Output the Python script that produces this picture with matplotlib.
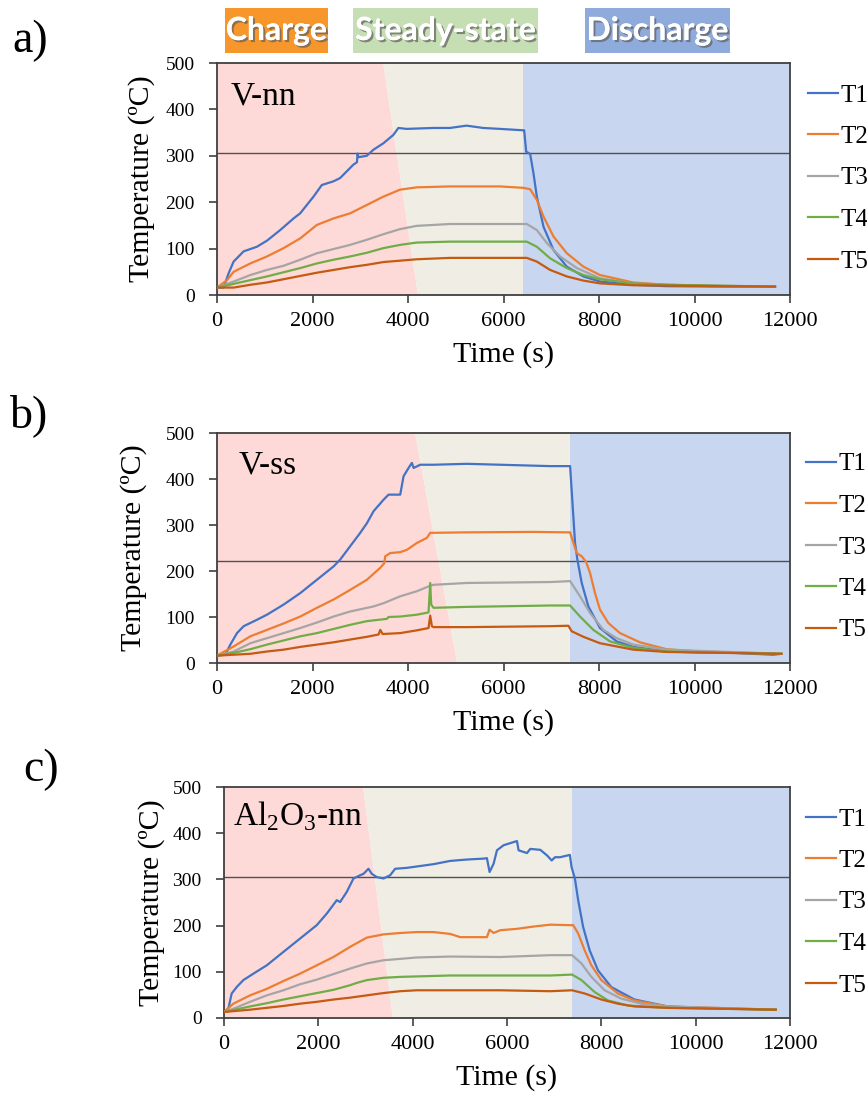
import matplotlib
matplotlib.use("Agg")
import matplotlib.pyplot as plt
import matplotlib.patheffects as pe
from matplotlib.patches import Rectangle, Polygon

plt.rcParams['font.family'] = ['Liberation Serif', 'DejaVu Serif']
plt.rcParams['mathtext.fontset'] = 'custom'
plt.rcParams['mathtext.rm'] = 'Liberation Serif'

# ---- data ---------------------------------------------------------------
SERIES = ["T1", "T2", "T3", "T4", "T5"]
PHASES = ["Charge", "Steady-state", "Discharge"]
PANEL_NAMES = ["V-nn", "V-ss", r"Al$_{\mathregular{2}}$O$_{\mathregular{3}}$-nn"]
PANEL_TAGS = ["a)", "b)", "c)"]
XTICKS = [0, 2000, 4000, 6000, 8000, 10000, 12000]
YTICKS = [0, 100, 200, 300, 400, 500]

# phase boundaries (s): charge end at top / bottom of plot, steady-state end
A_CHARGE_END = (3480, 4210)
A_STEADY_END = 6410
B_CHARGE_END = (4150, 5030)
B_STEADY_END = 7390
C_CHARGE_END = (2950, 3580)
C_STEADY_END = 7380
# horizontal reference line (ºC)
A_HLINE = 306
B_HLINE = 222
C_HLINE = 305

# panel a) V-nn
A_T1_t = [0, 140, 244, 348, 557, 836, 1045, 1324, 1603, 1742, 2021, 2195, 2439, 2578,
          2857, 2930, 2945, 2960, 3136, 3275, 3484, 3693, 3798, 3972, 4530, 4878, 5226,
          5575, 5923, 6411, 6433, 6475, 6558, 6628, 6698, 6838, 7047, 7326, 7675, 8021,
          8719, 9417, 10813, 11686]
A_T1_y = [16, 16, 47, 72, 94, 104, 117, 140, 165, 176, 212, 237, 245, 252,
          281, 286, 305, 297, 300, 313, 327, 345, 360, 358, 360, 360, 365,
          360, 358, 355, 355, 309, 304, 262, 212, 147, 97, 61, 40, 29,
          22, 19, 18, 18]
A_T2_t = [0, 209, 348, 697, 1045, 1394, 1742, 2091, 2439, 2787, 3136, 3484, 3833, 4181,
          4878, 5923, 6411, 6558, 6698, 6838, 7047, 7326, 7675, 8021, 8719, 9417, 10813, 11686]
A_T2_y = [16, 32, 50, 68, 83, 101, 122, 151, 165, 176, 194, 212, 227, 232,
          234, 234, 231, 228, 205, 169, 126, 90, 61, 43, 27, 22, 18, 18]
A_T3_t = [0, 348, 697, 1045, 1394, 1742, 2091, 2439, 2787, 3136, 3484, 3833, 4181, 4878,
          6411, 6488, 6698, 6907, 7186, 7535, 8021, 8719, 9417, 11686]
A_T3_y = [16, 29, 43, 54, 63, 76, 90, 99, 108, 119, 131, 142, 149, 153,
          153, 153, 140, 112, 83, 58, 36, 25, 22, 18]
A_T4_t = [0, 348, 1045, 1742, 2091, 2439, 2787, 3136, 3484, 3833, 4181, 4878, 6411, 6488,
          6698, 6977, 7326, 7675, 8021, 8719, 9417, 11686]
A_T4_y = [16, 24, 40, 58, 68, 76, 83, 91, 101, 108, 113, 115, 115, 115,
          104, 79, 58, 43, 34, 25, 22, 18]
A_T5_t = [0, 348, 697, 1045, 1394, 1742, 2091, 2439, 2787, 3136, 3484, 3833, 4181, 4878,
          6411, 6488, 6698, 6977, 7326, 7675, 8021, 8719, 11686]
A_T5_y = [16, 16, 22, 27, 34, 41, 48, 54, 60, 65, 71, 74, 77, 80,
          80, 80, 72, 54, 40, 31, 25, 21, 18]

# panel b) V-ss
B_T1_t = [0, 174, 279, 419, 558, 837, 1046, 1395, 1744, 2093, 2442, 2581, 2790, 3000,
          3140, 3279, 3488, 3593, 3837, 3907, 4012, 4082, 4117, 4256, 4535, 5232, 5930,
          6977, 7325, 7395, 7449, 7498, 7547, 7638, 7777, 8021, 8369, 8718, 9415, 10111,
          10808, 11645, 11819]
B_T1_y = [16, 18, 40, 65, 80, 94, 105, 127, 152, 181, 210, 225, 254, 283,
          304, 330, 355, 366, 366, 406, 424, 435, 424, 431, 431, 433, 431,
          428, 428, 428, 341, 261, 225, 174, 123, 76, 47, 35, 25, 23,
          22, 18, 20]
B_T2_t = [0, 349, 698, 1046, 1395, 1744, 2093, 2442, 2790, 3140, 3419, 3503, 3523, 3628,
          3837, 3977, 4186, 4395, 4465, 4535, 5232, 6628, 7325, 7394, 7533, 7638, 7728,
          7812, 7916, 8021, 8195, 8439, 8857, 9415, 10111, 11819]
B_T2_y = [16, 36, 58, 72, 86, 101, 120, 138, 159, 181, 207, 217, 232, 239,
          241, 246, 261, 272, 283, 283, 284, 285, 284, 284, 239, 232, 220,
          196, 152, 116, 87, 65, 45, 30, 25, 20]
B_T3_t = [0, 349, 698, 1046, 1395, 1744, 2093, 2442, 2790, 3279, 3488, 3837, 4186, 4465,
          4535, 5232, 6977, 7395, 7603, 7812, 8091, 8369, 8718, 9415, 11819]
B_T3_y = [16, 25, 43, 54, 65, 76, 88, 101, 112, 123, 130, 145, 156, 168,
          170, 174, 176, 178, 145, 109, 72, 54, 40, 29, 20]
B_T4_t = [0, 349, 698, 1046, 1395, 1744, 2093, 2442, 2790, 3140, 3558, 3593, 3837, 4186,
          4430, 4465, 4486, 4535, 5232, 6977, 7395, 7603, 7882, 8230, 8718, 9415, 11819]
B_T4_y = [16, 22, 30, 40, 49, 58, 65, 74, 83, 91, 96, 100, 101, 105,
          110, 174, 127, 120, 122, 125, 125, 101, 72, 47, 33, 25, 20]
B_T5_t = [0, 698, 1046, 1395, 1744, 2093, 2442, 2790, 3140, 3384, 3419, 3468, 3837, 4186,
          4430, 4465, 4500, 4535, 5232, 6977, 7359, 7428, 7672, 8021, 8718, 9415, 11819]
B_T5_y = [16, 20, 25, 29, 35, 40, 45, 51, 57, 62, 72, 63, 65, 71,
          76, 103, 80, 78, 78, 80, 81, 69, 57, 43, 29, 24, 20]

# panel c) Al2O3-nn
C_T1_t = [0, 92, 163, 269, 410, 623, 906, 1259, 1613, 1967, 2179, 2391, 2462, 2603,
          2745, 2887, 2957, 3063, 3134, 3240, 3382, 3523, 3629, 3876, 4089, 4443, 4796,
          5150, 5504, 5574, 5631, 5716, 5787, 5928, 6211, 6246, 6423, 6494, 6706, 6848,
          6947, 7018, 7123, 7333, 7368, 7439, 7509, 7614, 7754, 7930, 8211, 8702, 9404,
          10105, 10807, 11698]
C_T1_y = [13, 20, 53, 67, 82, 96, 114, 143, 172, 201, 226, 255, 251, 273,
          302, 309, 312, 323, 312, 305, 302, 309, 323, 325, 328, 333, 340,
          343, 345, 346, 316, 334, 363, 374, 383, 363, 357, 366, 364, 352,
          341, 348, 348, 353, 327, 302, 255, 197, 146, 103, 67, 40, 25,
          22, 20, 18]
C_T2_t = [0, 198, 552, 906, 1259, 1613, 1967, 2320, 2674, 3027, 3382, 3735, 4089, 4443,
          4796, 5008, 5574, 5631, 5716, 5857, 6211, 6565, 6918, 7298, 7404, 7509, 7649,
          7789, 8000, 8351, 8702, 9404, 11698]
C_T2_y = [13, 31, 49, 63, 80, 96, 114, 132, 154, 174, 181, 184, 186, 186,
          182, 175, 175, 191, 184, 190, 193, 198, 202, 201, 201, 183, 146,
          114, 82, 53, 38, 25, 18]
C_T3_t = [0, 198, 552, 906, 1259, 1613, 1967, 2320, 2674, 3027, 3382, 3735, 4089, 4796,
          5857, 6918, 7380, 7579, 7789, 8070, 8421, 8842, 9404, 11698]
C_T3_y = [13, 20, 35, 49, 60, 73, 83, 95, 107, 118, 125, 128, 131, 133,
          132, 136, 136, 118, 89, 60, 42, 31, 25, 18]
C_T4_t = [0, 552, 906, 1259, 1613, 1967, 2320, 2674, 2816, 3027, 3382, 3735, 4089, 4796,
          5857, 6918, 7380, 7579, 7860, 8140, 8561, 9404, 11698]
C_T4_y = [13, 25, 32, 40, 47, 54, 61, 71, 76, 82, 87, 89, 90, 92,
          92, 92, 94, 82, 56, 38, 27, 22, 18]
C_T5_t = [0, 552, 906, 1259, 1613, 1967, 2320, 2674, 3027, 3382, 3735, 4089, 4796, 5857,
          6918, 7380, 7649, 8000, 8351, 8702, 9404, 11698]
C_T5_y = [13, 18, 22, 26, 31, 35, 40, 44, 49, 54, 58, 60, 60, 60,
          58, 60, 53, 40, 31, 25, 22, 18]

A_DATA = [(A_T1_t, A_T1_y), (A_T2_t, A_T2_y), (A_T3_t, A_T3_y), (A_T4_t, A_T4_y), (A_T5_t, A_T5_y)]
B_DATA = [(B_T1_t, B_T1_y), (B_T2_t, B_T2_y), (B_T3_t, B_T3_y), (B_T4_t, B_T4_y), (B_T5_t, B_T5_y)]
C_DATA = [(C_T1_t, C_T1_y), (C_T2_t, C_T2_y), (C_T3_t, C_T3_y), (C_T4_t, C_T4_y), (C_T5_t, C_T5_y)]

# ---- styling ---------------------------------------------------------------
line_colors = ['#4472C4', '#ED7D31', '#A5A5A5', '#70AD47', '#C55A11']
shade_colors = ['#FDDAD8', '#F0EEE4', '#C9D6EF']
box_colors = ['#F7962A', '#C5DEB3', '#8FABDC']
axis_color = '#404040'

W, H = 867, 1102
fig = plt.figure(figsize=(W / 100, H / 100), dpi=100)


def px(x0, y0, x1, y1):
    # pixel box (left, top, right, bottom) -> figure rect
    return [x0 / W, 1 - y1 / H, (x1 - x0) / W, (y1 - y0) / H]


panels = [
    dict(rect=px(217, 63, 790, 295), data=A_DATA, ce=A_CHARGE_END, se=A_STEADY_END,
         hl=A_HLINE, name_xy=(0.023, 0.823), ylab_x=-0.108, leg=(808, 84), tag=(12, 52)),
    dict(rect=px(217, 433, 790, 663), data=B_DATA, ce=B_CHARGE_END, se=B_STEADY_END,
         hl=B_HLINE, name_xy=(0.037, 0.826), ylab_x=-0.122, leg=(806, 453), tag=(10, 427)),
    dict(rect=px(224, 787, 790, 1018), data=C_DATA, ce=C_CHARGE_END, se=C_STEADY_END,
         hl=C_HLINE, name_xy=(0.016, 0.835), ylab_x=-0.104, leg=(806, 808), tag=(23, 781)),
]

for i, p in enumerate(panels):
    ax = fig.add_axes(p['rect'])
    ax.set_xlim(0, 12000)
    ax.set_ylim(0, 500)
    top, bot = p['ce']
    ax.add_patch(Polygon([(0, 0), (0, 500), (top, 500), (bot, 0)], closed=True,
                         facecolor=shade_colors[0], edgecolor='none', zorder=0))
    ax.add_patch(Polygon([(bot, 0), (top, 500), (p['se'], 500), (p['se'], 0)], closed=True,
                         facecolor=shade_colors[1], edgecolor='none', zorder=0))
    ax.axvspan(p['se'], 12000, facecolor=shade_colors[2], edgecolor='none', zorder=0)
    ax.axhline(p['hl'], color='#505050', lw=1.0, zorder=1)

    for (t, y), c, lab in zip(p['data'], line_colors, SERIES):
        ax.plot(t, y, color=c, lw=1.6, label=lab, zorder=3)

    ax.set_xticks(XTICKS)
    ax.set_yticks(YTICKS)
    ax.tick_params(axis='x', labelsize=16, length=6, width=1.2, color=axis_color, pad=6)
    ax.tick_params(axis='y', labelsize=14, length=6, width=1.2, color=axis_color, pad=10)
    for s in ax.spines.values():
        s.set_color(axis_color)
        s.set_linewidth(1.3)

    ax.set_ylabel('Temperature (ºC)', fontsize=21.5)
    ax.yaxis.set_label_coords(p['ylab_x'], 0.5)
    ax.set_xlabel('Time (s)', fontsize=21.5)
    ax.xaxis.set_label_coords(0.5, -0.2)

    ax.text(p['name_xy'][0], p['name_xy'][1], PANEL_NAMES[i], transform=ax.transAxes,
            fontsize=24, va='baseline', ha='left', zorder=4)

    lx, ly = p['leg']
    ax.legend(loc='upper left', bbox_to_anchor=(lx / W, 1 - ly / H),
              bbox_transform=fig.transFigure, frameon=False, fontsize=18,
              borderpad=0, borderaxespad=0, handlelength=1.2, handletextpad=0.1,
              labelspacing=0.76)

    tx, ty = p['tag']
    fig.text(tx / W, 1 - ty / H, PANEL_TAGS[i], fontsize=33, va='baseline', ha='left')

# ---- phase header boxes ------------------------------------------------------
boxes = [(225, 8, 328, 53), (353, 8, 538, 53), (585, 8, 730, 53)]
for (x0, y0, x1, y1), lab, fc in zip(boxes, PHASES, box_colors):
    r = px(x0, y0, x1, y1)
    fig.patches.append(Rectangle((r[0], r[1]), r[2], r[3], transform=fig.transFigure,
                                 facecolor=fc, edgecolor='none', zorder=1))
    fig.text(r[0] + r[2] / 2, r[1] + r[3] / 2, lab, ha='center', va='center',
             fontsize=23, fontweight='bold', color='white',
             family=['Lato', 'DejaVu Sans'],
             path_effects=[pe.withSimplePatchShadow(offset=(1.5, -1.5), shadow_rgbFace='#606060',
                                                    alpha=0.7), pe.Normal()])

fig.savefig('out.png', dpi=100)
